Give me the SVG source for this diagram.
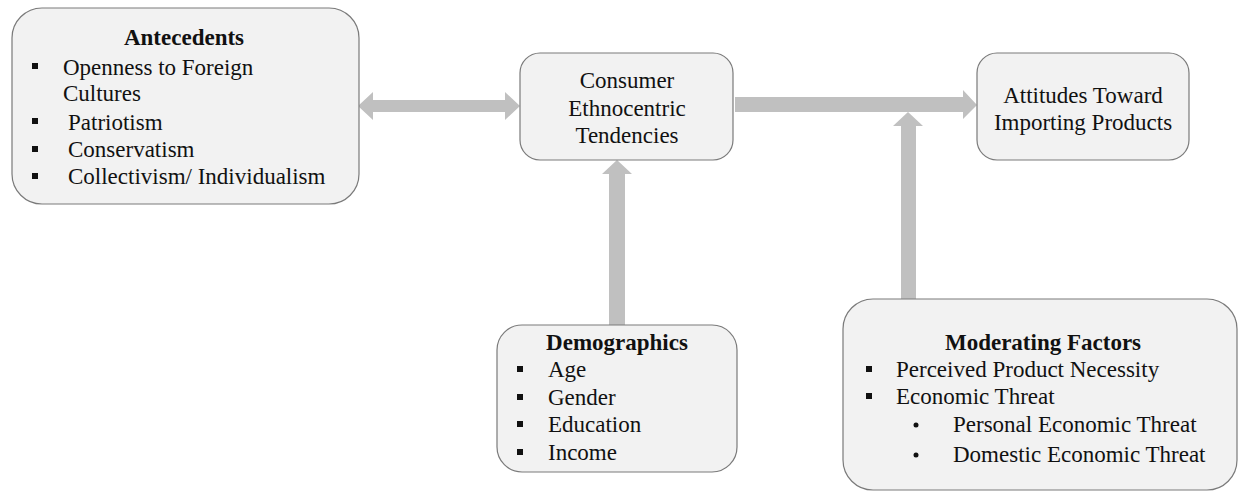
<svg xmlns="http://www.w3.org/2000/svg" width="1238" height="491" viewBox="0 0 1238 491">
<style>
.box{fill:#f2f2f2;stroke:#7a7a7a;stroke-width:1.2}
.t{font-family:'Liberation Serif','Times New Roman',serif;font-size:23px;fill:#111}
.b{font-weight:bold}
.c{text-anchor:middle}
.arr{fill:#c0c0c0}
.sq{fill:#111}
</style>
<rect width="1238" height="491" fill="#ffffff"/>
<g id="connectors">
<polygon class="arr" points="358,106 373,92 373,100 505,100 505,92 520,106 505,120 505,112 373,112 373,120"/>
<polygon class="arr" points="735,97 963,97 963,90 977,105 963,119 963,112 735,112"/>
<polygon class="arr" points="908,112 923,126 916,126 916,299 901,299 901,126 893,126"/>
<polygon class="arr" points="617,160 632,174 625,174 625,325 609,325 609,174 602,174"/>
</g>
<g id="antecedents">
<rect class="box" x="12" y="8" width="347" height="196" rx="30"/>
<text class="t b c" x="184" y="45">Antecedents</text>
<rect class="sq" x="32" y="63" width="6" height="6"/>
<text class="t" x="63" y="75">Openness to Foreign</text>
<text class="t" x="63" y="101">Cultures</text>
<rect class="sq" x="32" y="118" width="6" height="6"/>
<text class="t" x="68" y="130">Patriotism</text>
<rect class="sq" x="32" y="146" width="6" height="6"/>
<text class="t" x="68" y="157">Conservatism</text>
<rect class="sq" x="32" y="173" width="6" height="6"/>
<text class="t" x="68" y="184">Collectivism/ Individualism</text>
</g>
<g id="consumer">
<rect class="box" x="520" y="53" width="213" height="107" rx="20"/>
<text class="t c" x="627" y="88">Consumer</text>
<text class="t c" x="627" y="116">Ethnocentric</text>
<text class="t c" x="627" y="143">Tendencies</text>
</g>
<g id="attitudes">
<rect class="box" x="977" y="53" width="212" height="107" rx="20"/>
<text class="t c" x="1083" y="103">Attitudes Toward</text>
<text class="t c" x="1083" y="130">Importing Products</text>
</g>
<g id="demographics">
<rect class="box" x="497" y="325" width="240" height="147" rx="25"/>
<text class="t b c" x="617" y="350">Demographics</text>
<rect class="sq" x="517" y="366" width="6" height="6"/>
<text class="t" x="548" y="377">Age</text>
<rect class="sq" x="517" y="394" width="6" height="6"/>
<text class="t" x="548" y="405">Gender</text>
<rect class="sq" x="517" y="421" width="6" height="6"/>
<text class="t" x="548" y="432">Education</text>
<rect class="sq" x="517" y="449" width="6" height="6"/>
<text class="t" x="548" y="460">Income</text>
</g>
<g id="moderating">
<rect class="box" x="843" y="299" width="394" height="191" rx="30"/>
<text class="t b c" x="1043" y="350">Moderating Factors</text>
<rect class="sq" x="866" y="366" width="6" height="6"/>
<text class="t" x="896" y="377">Perceived Product Necessity</text>
<rect class="sq" x="866" y="393" width="6" height="6"/>
<text class="t" x="896" y="404">Economic Threat</text>
<circle class="sq" cx="916" cy="425" r="2.5"/>
<text class="t" x="953" y="432">Personal Economic Threat</text>
<circle class="sq" cx="916" cy="455" r="2.5"/>
<text class="t" x="953" y="462">Domestic Economic Threat</text>
</g>
</svg>
